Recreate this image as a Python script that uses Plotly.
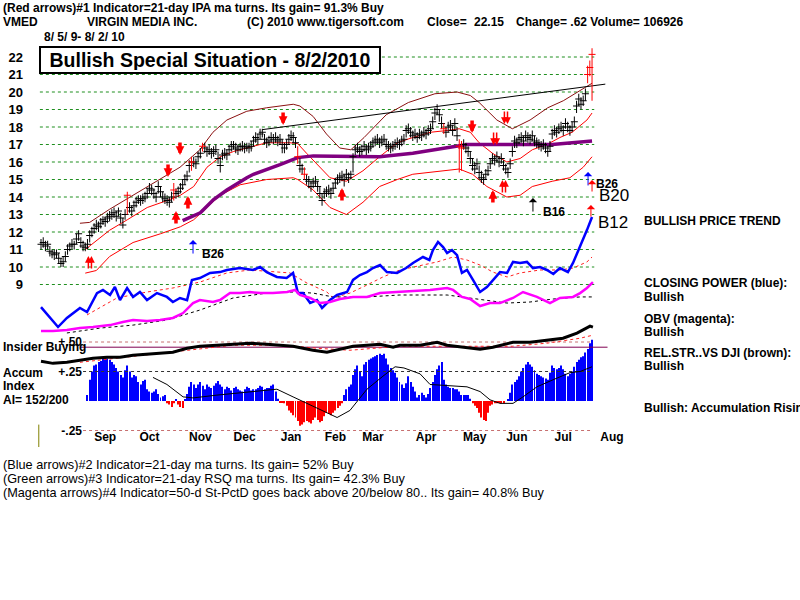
import plotly.graph_objects as go

F = "Liberation Sans, Arial, sans-serif"

# ---------------- data ----------------
close = [11.3, 11.4, 11.2, 11.3, 10.9, 10.8, 10.7, 10.8, 10.5, 10.2,
         10.3, 10.6, 11.0, 11.2, 11.3, 11.3, 11.6, 11.9, 11.4, 11.2,
         11.1, 11.3, 11.8, 12.0, 12.2, 12.4, 12.3, 12.5, 12.7, 12.6,
         12.8, 12.9, 13.0, 13.1, 12.9, 13.2, 12.8, 12.4, 13.0, 14.1,
         13.4, 13.2, 13.5, 13.7, 13.9, 13.8, 13.9, 14.0, 14.2, 14.5,
         14.4, 14.2, 14.0, 14.6, 14.3, 14.0, 13.9, 13.8, 13.7, 14.0,
         14.4, 14.2, 14.3, 14.5, 14.7, 15.0, 15.2, 15.8, 16.0, 16.0,
         15.9, 16.3, 16.5, 16.9, 16.8, 16.6, 16.7, 16.5, 16.6, 16.7,
         16.2, 15.8, 16.4, 16.5, 16.4, 16.7, 16.9, 17.0, 16.8, 16.7,
         16.9, 16.9, 16.8, 16.9, 16.8, 16.9, 17.2, 17.4, 17.3, 17.6,
         17.7, 17.3, 17.1, 17.2, 17.4, 17.3, 17.4, 17.2, 17.3, 17.0,
         16.8, 17.0, 17.3, 17.5, 17.4, 17.1, 16.3, 15.8, 15.6, 15.3,
         15.0, 14.9, 14.6, 14.8, 14.9, 14.6, 14.2, 13.8, 14.2, 14.3,
         14.4, 14.2, 14.5, 14.8, 15.0, 15.1, 15.2, 15.0, 15.3, 15.1,
         15.3, 16.3, 16.7, 16.8, 16.6, 16.7, 16.9, 16.7, 16.8, 16.9,
         17.1, 17.2, 17.3, 17.1, 17.2, 17.3, 17.0, 16.9, 16.8, 16.9,
         17.0, 17.1, 17.0, 17.2, 17.3, 17.8, 17.9, 17.7, 17.5, 17.6,
         17.4, 17.6, 17.5, 17.7, 17.6, 17.8, 17.9, 18.3, 18.8, 19.0,
         18.7, 18.2, 17.9, 17.7, 18.0, 18.1, 17.8, 18.2, 17.5, 16.9,
         16.8, 17.0, 16.8, 16.6, 16.2, 15.8, 15.6, 15.9, 15.4, 15.1,
         15.0, 15.3, 15.5, 15.9, 16.2, 16.1, 16.3, 16.0, 16.2, 15.8,
         15.6, 15.4, 15.9, 16.6, 17.2, 17.1, 17.3, 17.4, 17.2, 17.5,
         17.4, 17.3, 17.5, 17.2, 17.1, 17.0, 16.9, 17.0, 16.8, 16.6,
         16.9, 17.6, 17.8, 17.7, 17.9, 18.0, 17.8, 18.2, 18.0, 17.8,
         18.0, 18.3, 19.2, 19.6, 19.3, 19.5, 19.9, 21.0, 21.4, 22.15]
high = [11.6, 11.7, 11.5, 11.5, 11.2, 11.0, 11.0, 11.0, 10.8, 10.5,
        10.6, 10.9, 11.3, 11.4, 11.6, 11.5, 11.9, 12.1, 11.7, 11.5,
        11.4, 11.6, 12.1, 12.3, 12.5, 12.7, 12.6, 12.8, 12.9, 12.9,
        13.1, 13.2, 13.3, 13.4, 13.2, 13.4, 13.1, 12.8, 13.3, 14.3,
        13.7, 13.5, 13.8, 14.0, 14.1, 14.1, 14.2, 14.3, 14.5, 14.8,
        14.7, 14.5, 14.3, 14.9, 14.6, 14.3, 14.2, 14.1, 14.0, 14.3,
        14.8, 14.5, 14.6, 14.8, 15.0, 15.3, 15.5, 16.1, 16.3, 16.3,
        16.2, 16.6, 16.8, 17.1, 17.1, 16.9, 17.0, 16.8, 16.9, 17.0,
        16.6, 16.3, 16.7, 16.8, 16.7, 17.0, 17.2, 17.2, 17.1, 17.0,
        17.1, 17.2, 17.1, 17.1, 17.1, 17.2, 17.5, 17.7, 17.6, 17.9,
        17.9, 17.6, 17.4, 17.5, 17.7, 17.6, 17.7, 17.5, 17.6, 17.3,
        17.1, 17.3, 17.6, 17.8, 17.7, 17.4, 16.9, 16.2, 15.9, 15.7,
        15.3, 15.2, 14.9, 15.1, 15.2, 14.9, 14.6, 14.2, 14.5, 14.6,
        14.7, 14.5, 14.8, 15.1, 15.3, 15.4, 15.5, 15.3, 15.6, 15.4,
        15.5, 16.5, 17.0, 17.1, 16.9, 17.0, 17.2, 17.0, 17.1, 17.2,
        17.4, 17.5, 17.6, 17.4, 17.5, 17.6, 17.3, 17.2, 17.1, 17.2,
        17.3, 17.4, 17.3, 17.5, 17.6, 18.1, 18.2, 18.0, 17.8, 17.9,
        17.7, 17.9, 17.8, 18.0, 17.9, 18.1, 18.2, 18.6, 19.1, 19.3,
        19.0, 18.6, 18.2, 18.0, 18.3, 18.4, 18.1, 18.5, 18.0, 17.3,
        17.2, 17.3, 17.1, 16.9, 16.6, 16.2, 16.0, 16.2, 15.8, 15.5,
        15.3, 15.6, 15.8, 16.2, 16.5, 16.4, 16.6, 16.3, 16.5, 16.1,
        15.9, 15.7, 16.2, 16.9, 17.5, 17.4, 17.6, 17.7, 17.5, 17.8,
        17.7, 17.6, 17.8, 17.5, 17.4, 17.3, 17.2, 17.3, 17.1, 16.9,
        17.2, 17.9, 18.1, 18.0, 18.2, 18.3, 18.1, 18.5, 18.3, 18.1,
        18.3, 18.6, 19.5, 19.9, 19.7, 19.8, 20.2, 21.5, 21.8, 22.5]
low = [11.0, 11.1, 10.9, 11.0, 10.6, 10.5, 10.4, 10.5, 10.2, 10.0,
       10.0, 10.3, 10.7, 10.9, 11.0, 11.0, 11.3, 11.5, 11.1, 10.9,
       10.9, 11.0, 11.4, 11.7, 11.9, 12.1, 12.0, 12.2, 12.4, 12.3,
       12.5, 12.6, 12.7, 12.8, 12.6, 12.9, 12.5, 12.2, 12.7, 13.0,
       13.1, 12.9, 13.2, 13.4, 13.6, 13.5, 13.6, 13.7, 13.9, 14.2,
       14.1, 13.9, 13.7, 14.2, 14.0, 13.7, 13.6, 13.5, 13.4, 13.7,
       13.8, 13.9, 14.0, 14.2, 14.4, 14.7, 14.9, 15.4, 15.5, 15.7,
       15.6, 16.0, 16.2, 16.6, 16.5, 16.3, 16.4, 16.2, 16.3, 16.4,
       15.9, 15.4, 16.1, 16.2, 16.1, 16.4, 16.6, 16.7, 16.5, 16.4,
       16.6, 16.6, 16.5, 16.6, 16.5, 16.6, 16.9, 17.1, 17.0, 17.3,
       17.4, 17.0, 16.8, 16.9, 17.1, 17.0, 17.1, 16.9, 17.0, 16.5,
       16.5, 16.7, 17.0, 17.2, 17.1, 16.8, 15.9, 15.4, 15.3, 15.0,
       14.7, 14.5, 14.3, 14.5, 14.6, 14.3, 13.9, 13.5, 13.9, 14.0,
       14.1, 13.9, 14.2, 14.5, 14.7, 14.8, 14.9, 14.6, 15.0, 14.8,
       15.0, 15.4, 16.4, 16.5, 16.3, 16.4, 16.6, 16.4, 16.5, 16.6,
       16.8, 16.9, 17.0, 16.8, 16.9, 17.0, 16.7, 16.6, 16.5, 16.6,
       16.7, 16.8, 16.7, 16.9, 17.0, 17.4, 17.6, 17.4, 17.2, 17.3,
       17.1, 17.3, 17.2, 17.4, 17.3, 17.5, 17.6, 17.9, 18.4, 18.7,
       18.3, 17.9, 17.6, 17.4, 17.7, 17.8, 17.5, 17.8, 17.2, 15.4,
       15.5, 16.7, 16.5, 16.3, 15.9, 15.5, 15.3, 15.6, 15.0, 14.8,
       14.7, 15.0, 15.2, 15.6, 15.9, 15.8, 16.0, 15.7, 15.9, 15.5,
       15.3, 15.1, 15.6, 16.3, 16.8, 16.8, 17.0, 17.1, 16.9, 17.2,
       17.1, 17.0, 17.2, 16.9, 16.8, 16.7, 16.6, 16.7, 16.5, 16.3,
       16.6, 17.3, 17.5, 17.4, 17.6, 17.7, 17.5, 17.9, 17.7, 17.5,
       17.7, 18.0, 18.8, 19.2, 19.0, 19.2, 19.5, 20.5, 20.9, 19.5]
red_bars = [39, 60, 68, 73, 116, 119, 182, 189, 190, 247, 248, 249]

upper_x = [17.6, 22, 31, 41.6, 52.4, 62.8, 71.8, 77.7, 84, 93, 102, 114, 117, 123, 129, 135, 140,
           146, 156, 166, 178, 188, 194, 198, 206, 213, 221, 229, 236, 245, 249]
upper_y = [12.5, 12.55, 13.3, 14.1, 14.9, 15.7, 16.7, 17.7, 18.4, 18.9, 19.1, 19.3, 19.2, 18.6, 17.6, 16.8, 16.7,
           17.4, 18.7, 19.4, 19.9, 20.0, 19.8, 19.4, 18.4, 17.9, 18.4, 19.1, 19.5, 20.2, 20.5]
mid_x = [20, 31, 39, 48, 57, 63, 69, 75, 81, 87, 96, 102, 112.5, 116, 120, 126, 130.6, 138, 145.5, 153,
         161, 168, 176, 183.5, 189, 194, 198, 204, 210.5, 216.5, 222, 228.6, 234.5, 240, 246.7, 249]
mid_y = [11.0, 12.1, 12.7, 13.4, 13.8, 14.1, 14.6, 15.7, 16.3, 16.6, 16.9, 17.1, 17.1, 17.05, 16.5, 15.7, 15.1, 14.9, 15.5, 16.3,
         17.1, 17.4, 17.7, 17.8, 17.9, 17.7, 17.1, 16.5, 16.0, 16.2, 16.7, 17.0, 17.4, 17.7, 18.4, 18.8]
lowb_x = [20, 25, 31, 41.6, 54, 63, 69, 75, 81, 90, 102, 114, 116, 123, 130.6, 138, 145.5, 153, 161, 168,
          176, 183.5, 189, 195, 201.5, 210.5, 216.5, 222, 231, 239, 245, 249]
lowb_y = [9.65, 9.8, 10.6, 11.4, 11.9, 12.3, 12.7, 13.4, 14.1, 14.7, 15.0, 15.1, 15.0, 14.4, 13.4, 13.0, 13.7, 14.6, 15.0, 15.3,
          15.4, 15.5, 15.6, 15.3, 14.6, 14.0, 14.1, 14.6, 14.9, 15.1, 15.7, 16.3]
ma65_x = [64, 72, 78, 84, 93, 96, 108, 116, 123, 138, 153, 168, 183.5, 192.5, 206, 221, 231, 240, 249]
ma65_y = [12.65, 13.1, 13.85, 14.4, 15.1, 15.3, 15.85, 16.25, 16.35, 16.3, 16.3, 16.5, 16.8, 17.0, 17.0, 17.0, 17.0, 17.1, 17.2]
trend_x = [100, 255]
trend_y = [17.85, 20.45]

cp_x = [0, 4, 7.7, 11.7, 17.6, 20.8, 25.3, 28, 31.2, 33.4, 35.7, 38.9, 41.6, 44.7, 47.9, 52.4, 56.9, 59.6,
        62.8, 66, 68.2, 71.8, 76.4, 80.9, 84, 89.9, 95.8, 99, 102, 106.6, 111, 113.9, 116.1, 118.4, 121.6,
        124.7, 127, 130.6, 133.8, 138.3, 141, 144.1, 147.3, 150, 153.2, 156.3, 160.9, 165, 168.1, 172.6,
        175.5, 177.1, 179.4, 181.7, 183.5, 185.7, 188, 190.2, 192.5, 195.2, 198.4, 201.5, 204.2, 207.4,
        210.6, 213.3, 216.5, 219.6, 222.3, 225.5, 228.6, 231.5, 234.5, 238.1, 240.4, 243.6, 246.7, 249]
cp_y = [7.71, 7.15, 6.57, 7.09, 7.66, 7.43, 8.5, 8.69, 8.4, 8.86, 8.11, 8.8, 8.29, 8.57, 8.11, 8.51, 8.29, 8.0,
        8.23, 8.11, 9.26, 9.37, 9.66, 9.71, 9.83, 9.94, 9.83, 10.0, 9.71, 9.43, 9.37, 9.66, 8.51, 8.51, 7.94,
        8.11, 7.66, 8.11, 8.4, 8.57, 9.26, 9.54, 9.71, 9.94, 10.11, 9.71, 9.66, 9.94, 10.23, 10.57,
        10.4, 10.97, 11.43, 11.14, 10.8, 10.97, 10.68, 9.66, 9.83, 9.26, 8.57, 8.86, 9.26, 9.71,
        9.66, 10.29, 10.23, 10.29, 9.94, 10.0, 9.83, 9.6, 9.94, 9.71, 10.23, 11.14, 12.11, 12.86]
cpma_x = [20.8, 34.3, 47.9, 59.6, 71.8, 84, 94.4, 104.8, 112.5, 120.2, 129.2, 132, 139.6, 147.3, 154.5,
          162.2, 179, 186.2, 192.5, 198.4, 204.2, 210.6, 216.5, 225.5, 234.5, 240.4, 246.7, 249]
cpma_y = [7.26, 8.23, 8.57, 8.8, 9.14, 9.66, 9.83, 9.71, 9.66, 9.08, 8.57, 8.23, 8.51, 8.97, 9.43,
          9.83, 10.29, 10.57, 10.4, 10.11, 9.71, 9.43, 9.66, 9.83, 9.83, 9.94, 10.29, 10.57]
obv_x = [0, 5.4, 11.7, 17.6, 23.5, 31.2, 37, 41.6, 47.9, 53.8, 59.6, 64.2, 68.7, 71.8, 77.7, 80.9, 85.4,
         89.9, 94.4, 99, 104.8, 111.2, 114.8, 117, 121.6, 126, 130.6, 135.1, 141, 147.3, 153.2, 162.2,
         175.8, 183.5, 186.2, 190.2, 193.9, 198.4, 202.9, 207.4, 213.3, 217.8, 224.1, 230, 234.5, 240.4,
         243.6, 246.7, 249.4]
obv_y = [6.34, 6.34, 6.40, 6.51, 6.57, 6.68, 6.86, 6.97, 6.91, 6.97, 7.09, 7.37, 7.94, 8.11, 8.0, 8.11, 8.51,
         8.51, 8.57, 8.51, 8.51, 8.57, 8.69, 8.4, 8.23, 7.94, 8.0, 8.17, 8.29, 8.29, 8.51, 8.57,
         8.69, 8.8, 8.69, 8.29, 8.17, 7.77, 7.94, 7.94, 8.23, 8.57, 8.29, 7.94, 8.23, 8.29,
         8.51, 8.8, 9.14]
obvma_x = [11.7, 26.7, 41.6, 56.9, 71.8, 86.8, 102, 113.9, 122.9, 131.9, 147.3, 162.2, 183.5, 201.5,
           210.6, 221, 231.4, 243.6, 249.4]
obvma_y = [6.23, 6.51, 6.68, 6.97, 7.54, 8.23, 8.51, 8.57, 8.51, 8.29, 8.29, 8.4, 8.4, 8.11,
           7.94, 8.0, 8.17, 8.29, 8.29]

rs_x = [0, 5.4, 11.7, 17.6, 23.5, 29.8, 35.7, 41.6, 47.9, 53.8, 59.6, 66, 71.8, 79.5, 86.8, 94.4, 102,
        108, 113.9, 118.4, 122.9, 129.2, 135.1, 141, 147.3, 153.2, 159.1, 162.2, 171.3, 179, 183.5,
        190.7, 198.4, 204.2, 213.3, 221, 228.6, 235.9, 242.2, 245, 248.1, 249.4]
rs_y = [0.336, 0.319, 0.328, 0.345, 0.362, 0.37, 0.37, 0.388, 0.396, 0.404, 0.413, 0.447, 0.464, 0.473,
        0.481, 0.49, 0.481, 0.473, 0.464, 0.447, 0.43, 0.413, 0.439, 0.464, 0.473, 0.481, 0.456, 0.473,
        0.473, 0.498, 0.473, 0.456, 0.439, 0.456, 0.498, 0.498, 0.515, 0.532, 0.575, 0.6, 0.634, 0.626]
rsma_x = [17.6, 71.8, 86.8, 109, 124.7, 139.6, 162, 213, 228.6, 243.6, 249.4]
rsma_y = [0.328, 0.439, 0.473, 0.473, 0.447, 0.43, 0.464, 0.464, 0.49, 0.532, 0.558]
insider_x = [18, 256]
insider_y = [0.456, 0.456]

ai_start = 21
ai = [0.05, 0.18, 0.25, 0.30, 0.31, 0.33, 0.34, 0.36, 0.38,
      0.36, 0.35, 0.33, 0.31, 0.28, 0.25, 0.22, 0.20, 0.26, 0.30,
      0.25, 0.20, 0.22, 0.21, 0.16, 0.14, 0.17, 0.18, 0.10, 0.08,
      0.07, 0.08, 0.10, 0.06, 0.03, 0.04, 0.05, -0.02, -0.03, -0.05,
      -0.02, 0.01, -0.03, -0.05, -0.06, 0.01, 0.06, 0.12, 0.16, 0.14,
      0.11, 0.14, 0.16, 0.13, 0.10, 0.14, 0.12, 0.11, 0.13, 0.15,
      0.17, 0.14, 0.12, 0.10, 0.12, 0.11, 0.09, 0.11, 0.12, 0.10,
      0.09, 0.08, 0.10, 0.12, 0.11, 0.09, 0.10, 0.10, 0.11, 0.13,
      0.12, 0.10, 0.11, 0.11, 0.13, 0.14, 0.08, 0.02, -0.01, -0.01,
      -0.02, -0.04, -0.08, -0.10, -0.12, -0.14, -0.17, -0.21, -0.20, -0.18,
      -0.17, -0.18, -0.19, -0.16, -0.14, -0.16, -0.18, -0.17, -0.13, -0.10,
      -0.11, -0.12, -0.10, -0.08, -0.06, -0.04, -0.02, 0.05, 0.10, 0.12,
      0.14, 0.22, 0.27, 0.30, 0.25, 0.21, 0.31, 0.33, 0.35, 0.36,
      0.37, 0.38, 0.39, 0.40, 0.39, 0.40, 0.36, 0.31, 0.28, 0.26,
      0.24, 0.20, 0.16, 0.14, 0.11, 0.15, 0.21, 0.16, 0.12, 0.08,
      0.03, 0.05, 0.07, 0.05, 0.03, 0.06, 0.11, 0.16, 0.22, 0.27,
      0.30, 0.33, 0.18, 0.14, 0.12, 0.11, 0.11, 0.10, 0.10, 0.08,
      0.05, 0.05, 0.05, 0.05, 0.02, -0.02, -0.04, -0.06, -0.10, -0.14,
      -0.16, -0.17, -0.10, -0.04, -0.03, -0.02, -0.02, -0.01, -0.02, -0.02,
      0.00, 0.01, 0.07, 0.14, 0.16, 0.18, 0.21, 0.25, 0.28, 0.31,
      0.33, 0.31, 0.29, 0.26, 0.23, 0.22, 0.21, 0.20, 0.19, 0.18,
      0.24, 0.30, 0.28, 0.27, 0.28, 0.30, 0.27, 0.23, 0.21, 0.23,
      0.25, 0.29, 0.33, 0.35, 0.37, 0.38, 0.41, 0.44, 0.49, 0.52]
aima_x = [50.6, 56.9, 64.2, 68.7, 79.5, 94.4, 106.6, 113.9, 120.2, 127.4, 133.8, 139.6, 147.3, 154.5,
          160, 164, 171.3, 175.8, 183.5, 192.5, 198.4, 202.9, 207.4, 213.3, 217.8, 224.1, 231.4, 239, 243.6, 249]
aima_y = [0.20, 0.14, 0.035, 0.026, 0.05, 0.08, 0.10, 0.035, -0.02, -0.08, -0.14, -0.08, 0.10, 0.21,
          0.29, 0.28, 0.23, 0.14, 0.13, 0.12, 0.08, 0.01, -0.02, -0.02, 0.035, 0.12, 0.18, 0.24, 0.25, 0.29]
ai_levels = [0.5, 0.25, -0.25]
ai_level_labels = ["+.50", "+.25", "-.25"]

price_ticks = list(range(9, 23))
month_names = ["Sep", "Oct", "Nov", "Dec", "Jan", "Feb", "Mar", "Apr", "May", "Jun", "Jul", "Aug"]
month_pos = [29, 49, 72, 92, 113, 133, 150, 174, 196, 215, 236, 258]

# signal arrows: (index, price at tip)
red_up = [(61, 13.2), (66.4, 14.06), (136, 14.51), (204.2, 14.4)]
red_dn = [(57.4, 15.14), (62.8, 16.4), (109.4, 18.11), (194.8, 17.66)]
red_dup = [(22.1, 10.63), (209.2, 14.97)]
red_ddn = [(205.2, 16.97), (210.1, 18.17)]
blue_thin = [(68.7, 11.54), (247.2, 15.43)]
red_thin = [(249, 14.97), (248.5, 13.54)]
black_thin = [(222.3, 13.94)]

# ---------------- pixel geometry (layout) ----------------
PX0, PXD = 41.0, 2.213          # x pixel of index 0, pixels per trading day
AIZ, AIS = 401.0, 118.0         # pixel of AI zero line, pixels per AI unit
X_RANGE = [-PX0 / PXD, (800 - PX0) / PXD]
Y_RANGE = [20 - (600 - 92) / 17.5, 20 + 92 / 17.5]
A_RANGE = [(AIZ - 600) / AIS, AIZ / AIS]

fig = go.Figure()

# price grid
gx, gy = [], []
for lv in price_ticks:
    gx += [-0.5, 250, None]
    gy += [lv, lv, None]
fig.add_trace(go.Scatter(x=gx, y=gy, mode="lines", line=dict(color="#1f8f1f", width=1, dash="dot"), hoverinfo="skip"))

# AI reference lines
for lv, col in zip(ai_levels, ["#c87070", "#333333", "#c87070"]):
    fig.add_trace(go.Scatter(x=[19, 249], y=[lv, lv], yaxis="y2", mode="lines",
                             line=dict(color=col, width=1, dash="dot"), hoverinfo="skip"))

# bands
fig.add_trace(go.Scatter(x=upper_x, y=upper_y, mode="lines", line=dict(color="#8b1010", width=1)))
fig.add_trace(go.Scatter(x=mid_x, y=mid_y, mode="lines", line=dict(color="#ff0000", width=1)))
fig.add_trace(go.Scatter(x=lowb_x, y=lowb_y, mode="lines", line=dict(color="#ff0000", width=1)))
fig.add_trace(go.Scatter(x=ma65_x, y=ma65_y, mode="lines", line=dict(color="#800080", width=3.5)))
fig.add_trace(go.Scatter(x=trend_x, y=trend_y, mode="lines", line=dict(color="black", width=1)))

# price bars
def bar_trace(idx, color):
    fig.add_trace(go.Scatter(
        x=idx, y=[close[i] for i in idx], mode="markers",
        marker=dict(symbol="line-ew", size=5, line=dict(width=1, color=color), color=color),
        error_y=dict(type="data", symmetric=False,
                     array=[high[i] - close[i] for i in idx],
                     arrayminus=[close[i] - low[i] for i in idx],
                     width=0, thickness=1, color=color)))

bar_trace([i for i in range(len(close)) if i not in red_bars], "black")
bar_trace(red_bars, "#ff0000")

# closing power, OBV
fig.add_trace(go.Scatter(x=cpma_x, y=cpma_y, mode="lines", line=dict(color="#ff2020", width=1, dash="dot")))
fig.add_trace(go.Scatter(x=obvma_x, y=obvma_y, mode="lines", line=dict(color="black", width=1, dash="dot")))
fig.add_trace(go.Scatter(x=cp_x, y=cp_y, mode="lines", line=dict(color="#0000ff", width=2.5)))
fig.add_trace(go.Scatter(x=obv_x, y=obv_y, mode="lines", line=dict(color="#ff00ff", width=2.5)))

# lower panel
ai_x = list(range(ai_start, ai_start + len(ai)))
fig.add_trace(go.Bar(x=ai_x, y=ai, yaxis="y2", width=0.45,
                     marker=dict(color=["#0000ff" if v >= 0 else "#ff0000" for v in ai], line=dict(width=0))))
fig.add_trace(go.Scatter(x=aima_x, y=aima_y, yaxis="y2", mode="lines", line=dict(color="black", width=1)))
fig.add_trace(go.Scatter(x=insider_x, y=insider_y, yaxis="y2", mode="lines", line=dict(color="#800050", width=1)))
fig.add_trace(go.Scatter(x=rsma_x, y=rsma_y, yaxis="y2", mode="lines", line=dict(color="#ff2020", width=1, dash="dot")))
fig.add_trace(go.Scatter(x=rs_x, y=rs_y, yaxis="y2", mode="lines", line=dict(color="black", width=3)))
fig.add_trace(go.Scatter(x=[-1, -1], y=[-0.2, -0.39], yaxis="y2", mode="lines", line=dict(color="#808000", width=1)))

# arrows
def arrow(i, p, up, color, width, length, size, head=2):
    fig.add_annotation(x=i, y=p, xref="x", yref="y", text="", showarrow=True,
                       ax=0, ay=length if up else -length, arrowhead=head, arrowsize=size,
                       arrowwidth=width, arrowcolor=color)

for i, p in red_up:
    arrow(i, p, True, "#ff0000", 3.5, 14, 0.5)
for i, p in red_dn:
    arrow(i, p, False, "#ff0000", 3.5, 14, 0.5)
for i, p in red_dup:
    arrow(i - 0.7, p, True, "#ff0000", 1.5, 14, 0.9)
    arrow(i + 0.7, p, True, "#ff0000", 1.5, 14, 0.9)
for i, p in red_ddn:
    arrow(i - 0.7, p, False, "#ff0000", 1.5, 14, 0.9)
    arrow(i + 0.7, p, False, "#ff0000", 1.5, 14, 0.9)
for i, p in blue_thin:
    arrow(i, p, True, "#0000ff", 1, 15, 1.4, 1)
for i, p in red_thin:
    arrow(i, p, True, "#ff0000", 1, 13, 1.4, 1)
for i, p in black_thin:
    arrow(i, p, True, "black", 1, 15, 1.4, 1)

def dlabel(i, p, text, size=12, bold=True):
    fig.add_annotation(x=i, y=p, xref="x", yref="y", text=f"<b>{text}</b>" if bold else text,
                       showarrow=False, xanchor="left", yanchor="middle",
                       font=dict(family=F, size=size, color="black"))

dlabel(71.8, 10.74, "B26")
dlabel(226, 13.14, "B16")
dlabel(249.9, 14.74, "B26")
dlabel(251.2, 14.06, "B20", 17, False)
dlabel(250.8, 12.57, "B12", 17, False)

# text
def T(px, py, text, size=12, bold=True, anchor="left"):
    fig.add_annotation(x=px / 800, y=1 - py / 600, xref="paper", yref="paper",
                       text=f"<b>{text}</b>" if bold else text, showarrow=False,
                       xanchor=anchor, yanchor="middle", font=dict(family=F, size=size, color="black"))

T(1, 8, "(Red arrows)#1 Indicator=21-day IPA ma turns. Its gain= 91.3% Buy")
T(1, 22, "VMED")
T(85, 22, "VIRGIN MEDIA INC.")
T(245, 22, "(C) 2010 www.tigersoft.com")
T(425, 22, "Close=")
T(472, 22, "22.15")
T(514, 22, "Change= .62 Volume= 106926")
T(42, 37, "8/ 5/ 9- 8/ 2/ 10")

fig.add_annotation(x=210 / 800, y=1 - 60 / 600, xref="paper", yref="paper",
                   text="<b>Bullish Special Situation - 8/2/2010</b>", showarrow=False,
                   xanchor="center", yanchor="middle", width=334, height=20,
                   bgcolor="white", bordercolor="black", borderwidth=2, borderpad=2,
                   font=dict(family=F, size=19.5, color="black"))

T(642, 221, "BULLISH PRICE TREND")
T(642, 283, "CLOSING POWER (blue):")
T(642, 297, "Bullish")
T(642, 319, "OBV (magenta):")
T(642, 332, "Bullish")
T(642, 353, "REL.STR..VS DJI (brown):")
T(642, 366, "Bullish")
T(642, 408, "Bullish: Accumulation Rising")

T(1, 347, "Insider Buying")
T(1, 373, "Accum")
T(1, 386, "Index")
T(1, 400, "AI= 152/200")

T(1, 465, "(Blue arrows)#2 Indicator=21-day ma turns. Its gain= 52% Buy", 12.7, False)
T(1, 479, "(Green arrows)#3 Indicator=21-day RSQ ma turns. Its gain= 42.3% Buy", 12.7, False)
T(1, 493, "(Magenta arrows)#4 Indicator=50-d St-PctD goes back above 20/below 80.. Its gain= 40.8% Buy", 12.7, False)

fig.update_layout(
    width=800, height=600, margin=dict(l=0, r=0, t=0, b=0),
    paper_bgcolor="white", plot_bgcolor="white", showlegend=False, barmode="overlay",
    xaxis=dict(range=X_RANGE, anchor="free", position=1 - 428 / 600, showgrid=False, zeroline=False,
               showline=False, ticks="", tickvals=month_pos, ticktext=month_names,
               tickfont=dict(family=F, size=12, color="black", weight="bold"),
               rangeslider=dict(visible=False), fixedrange=True),
    yaxis=dict(range=Y_RANGE, anchor="free", position=23 / 800, showgrid=False, zeroline=False,
               showline=False, ticks="", tickvals=price_ticks, ticktext=[str(v) for v in price_ticks],
               tickfont=dict(family=F, size=13, color="black", weight="bold")),
    yaxis2=dict(range=A_RANGE, overlaying="y", anchor="free", position=82 / 800, side="left",
                showgrid=False, zeroline=False, showline=False, ticks="",
                tickvals=ai_levels, ticktext=ai_level_labels,
                tickfont=dict(family=F, size=12, color="black", weight="bold")),
)

fig.write_html("out.html")
